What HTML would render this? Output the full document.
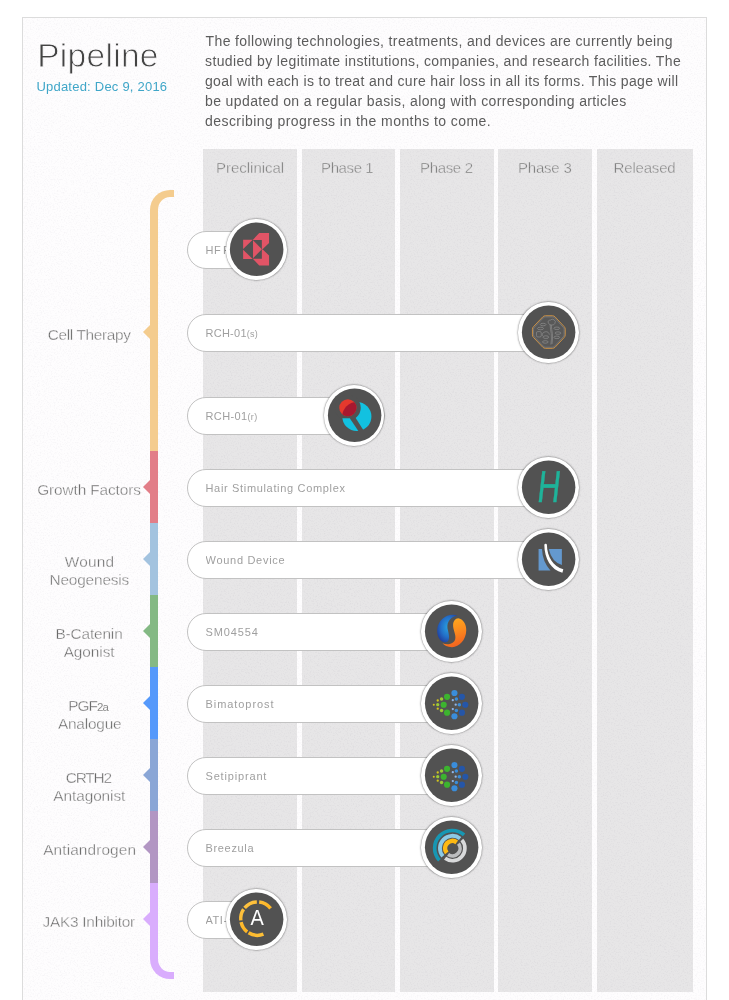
<!DOCTYPE html>
<html lang="en">
<head>
<meta charset="utf-8">
<title>Pipeline</title>
<style>
html,body{margin:0;padding:0;background:#fff;}
body{width:729px;height:1000px;overflow:hidden;position:relative;font-family:"Liberation Sans", sans-serif;}
#card{position:absolute;left:22px;top:17px;width:683px;height:1100px;border:1px solid #dcdcdc;background:#fefdfe;}
#nz{position:absolute;left:23px;top:18px;width:683px;height:982px;pointer-events:none;}
.col{position:absolute;top:149px;height:843px;background:rgba(0,0,0,0.09);}
.t{position:absolute;display:block;white-space:nowrap;line-height:1;margin:0;padding:0;font-weight:400;}
.seg{position:absolute;left:150px;width:8px;}
.arr{position:absolute;left:143px;width:0;height:0;border-top:7px solid transparent;border-bottom:7px solid transparent;border-right:7.5px solid #000;}
.bar{position:absolute;left:187px;height:36px;border:1px solid #c2c2c2;border-radius:19px;background:#fff;box-sizing:content-box;}
.sm{font-size:9px;}
.circ{position:absolute;width:60.7px;height:60.7px;border-radius:50%;background:#fff;box-shadow:0 0 1.6px 0.4px rgba(0,0,0,0.42);}
.circ svg{position:absolute;left:0;top:0;width:61px;height:61px;display:block;}
</style>
</head>
<body>
<div id="card"></div>
<svg id="nz" width="683" height="982"><filter id="nzf" x="0" y="0" width="100%" height="100%"><feTurbulence type="fractalNoise" baseFrequency="0.7" numOctaves="3" seed="7"/><feColorMatrix type="matrix" values="0 0 0 0 0.3  0 0 0 0 0.27  0 0 0 0 0.36  0.22 0 0 0 -0.105"/></filter><rect width="683" height="982" filter="url(#nzf)"/></svg>

<div class="col" style="left:203px;width:94px"></div>
<div class="col" style="left:302px;width:93px"></div>
<div class="col" style="left:400px;width:94px"></div>
<div class="col" style="left:498px;width:94px"></div>
<div class="col" style="left:597px;width:96px"></div>
<div style="position:absolute;left:150px;top:190px;width:16px;height:30px;border-left:8px solid #f4cc8e;border-top:7px solid #f4cc8e;border-top-left-radius:20px;"></div>
<div style="position:absolute;left:150px;top:949px;width:16px;height:23px;border-left:8px solid #d9adfd;border-bottom:7px solid #d9adfd;border-bottom-left-radius:20px;"></div>
<div class="seg" style="top:220px;height:231px;background:#f4cc8e"></div>
<div class="arr" style="top:325.3px;border-right-color:#f4cc8e"></div>
<div class="seg" style="top:451px;height:72px;background:#e27e88"></div>
<div class="arr" style="top:480.3px;border-right-color:#e27e88"></div>
<div class="seg" style="top:523px;height:72px;background:#a3c3df"></div>
<div class="arr" style="top:552.3px;border-right-color:#a3c3df"></div>
<div class="seg" style="top:595px;height:72px;background:#84b984"></div>
<div class="arr" style="top:624.3px;border-right-color:#84b984"></div>
<div class="seg" style="top:667px;height:72px;background:#5599fb"></div>
<div class="arr" style="top:696.3px;border-right-color:#5599fb"></div>
<div class="seg" style="top:739px;height:72px;background:#8aa6d6"></div>
<div class="arr" style="top:768.3px;border-right-color:#8aa6d6"></div>
<div class="seg" style="top:811px;height:72px;background:#b296c3"></div>
<div class="arr" style="top:840.3px;border-right-color:#b296c3"></div>
<div class="seg" style="top:883px;height:66px;background:#d9adfd"></div>
<div class="arr" style="top:912.3px;border-right-color:#d9adfd"></div>
<h1 class="t" id="title" style="left:37.15px;top:39.01px;font-size:33.5px;color:#444;letter-spacing:0.302px;-webkit-text-stroke:0.85px #fdfcfd;">Pipeline</h1>
<div class="t" id="upd" style="left:36.42px;top:80.01px;font-size:13px;color:#3fa6c8;letter-spacing:0.222px;">Updated: Dec 9, 2016</div>
<p style="margin:0">
<span class="t" id="p0" style="left:205.6px;top:34.00px;font-size:14px;color:#5c5c5c;letter-spacing:0.366px;">The following technologies, treatments, and devices are currently being</span>
<span class="t" id="p1" style="left:205.0px;top:54.00px;font-size:14px;color:#5c5c5c;letter-spacing:0.375px;">studied by legitimate institutions, companies, and research facilities. The</span>
<span class="t" id="p2" style="left:205.0px;top:74.00px;font-size:14px;color:#5c5c5c;letter-spacing:0.336px;">goal with each is to treat and cure hair loss in all its forms. This page will</span>
<span class="t" id="p3" style="left:205.0px;top:94.00px;font-size:14px;color:#5c5c5c;letter-spacing:0.385px;">be updated on a regular basis, along with corresponding articles</span>
<span class="t" id="p4" style="left:205.0px;top:114.00px;font-size:14px;color:#5c5c5c;letter-spacing:0.439px;">describing progress in the months to come.</span>
</p>
<div class="t" id="h0" style="left:216.09px;top:160.00px;font-size:15px;color:#787878;letter-spacing:-0.026px;-webkit-text-stroke:0.4px #e6e5e6;">Preclinical</div>
<div class="t" id="h1" style="left:321.09px;top:160.00px;font-size:15px;color:#787878;letter-spacing:-0.401px;-webkit-text-stroke:0.4px #e6e5e6;">Phase 1</div>
<div class="t" id="h2" style="left:420.04px;top:160.00px;font-size:15px;color:#787878;letter-spacing:-0.337px;-webkit-text-stroke:0.4px #e6e5e6;">Phase 2</div>
<div class="t" id="h3" style="left:518.0px;top:160.00px;font-size:15px;color:#787878;letter-spacing:-0.204px;-webkit-text-stroke:0.4px #e6e5e6;">Phase 3</div>
<div class="t" id="h4" style="left:613.62px;top:160.00px;font-size:15px;color:#787878;letter-spacing:-0.191px;-webkit-text-stroke:0.4px #e6e5e6;">Released</div>
<div class="t" id="l0" style="left:47.67px;top:327.00px;font-size:15.4px;color:#6a6a6a;letter-spacing:-0.338px;-webkit-text-stroke:0.38px #fdfcfd;">Cell Therapy</div>
<div class="t" id="l1" style="left:37.19px;top:482.01px;font-size:15.4px;color:#6a6a6a;letter-spacing:-0.112px;-webkit-text-stroke:0.38px #fdfcfd;">Growth Factors</div>
<div class="t" id="l2a" style="left:64.76px;top:554.00px;font-size:15.4px;color:#6a6a6a;letter-spacing:0.195px;-webkit-text-stroke:0.38px #fdfcfd;">Wound</div>
<div class="t" id="l2b" style="left:49.46px;top:572.00px;font-size:15.4px;color:#6a6a6a;letter-spacing:-0.16px;-webkit-text-stroke:0.38px #fdfcfd;">Neogenesis</div>
<div class="t" id="l3a" style="left:55.43px;top:626.00px;font-size:15.4px;color:#6a6a6a;letter-spacing:-0.144px;-webkit-text-stroke:0.38px #fdfcfd;">B-Catenin</div>
<div class="t" id="l3b" style="left:63.66px;top:644.00px;font-size:15.4px;color:#6a6a6a;letter-spacing:-0.06px;-webkit-text-stroke:0.38px #fdfcfd;">Agonist</div>
<div class="t" id="l4a" style="left:68.15px;top:698.00px;font-size:15.4px;color:#6a6a6a;letter-spacing:-0.924px;-webkit-text-stroke:0.38px #fdfcfd;">PGF<span style="font-size:11.5px;-webkit-text-stroke:0;color:#8a8a8a">2a</span></div>
<div class="t" id="l4b" style="left:57.9px;top:716.00px;font-size:15.4px;color:#6a6a6a;letter-spacing:-0.187px;-webkit-text-stroke:0.38px #fdfcfd;">Analogue</div>
<div class="t" id="l5a" style="left:65.68px;top:770.00px;font-size:15.4px;color:#6a6a6a;letter-spacing:-1.151px;-webkit-text-stroke:0.38px #fdfcfd;">CRTH2</div>
<div class="t" id="l5b" style="left:53.34px;top:788.00px;font-size:15.4px;color:#6a6a6a;letter-spacing:-0.083px;-webkit-text-stroke:0.38px #fdfcfd;">Antagonist</div>
<div class="t" id="l6" style="left:43.19px;top:842.01px;font-size:15.4px;color:#6a6a6a;letter-spacing:0.113px;-webkit-text-stroke:0.38px #fdfcfd;">Antiandrogen</div>
<div class="t" id="l7" style="left:42.53px;top:914.01px;font-size:15.4px;color:#6a6a6a;letter-spacing:-0.248px;-webkit-text-stroke:0.38px #fdfcfd;">JAK3 Inhibitor</div>
<div class="bar" style="top:231px;width:98.0px"></div>
<span class="t" id="b0" style="left:205.5px;top:244.69px;font-size:11px;color:#9f9f9f;letter-spacing:0.45px;width:51px;overflow:hidden;word-spacing:-1.6px;">HF Regeneration</span>
<div class="circ" style="left:226.0px;top:219px"><svg viewBox="41.66 41.66 635.25 635.25"><circle cx="360.8" cy="356.3" r="278.6" fill="#525252"/>
<g fill="#e15466">
<polygon points="220,258 320,258 220,355"/>
<polygon points="220,362 320,458 220,458"/>
<polygon points="323,264 416,357 323,450"/>
<polygon points="388,188 490,188 490,292 422,357 415,350 415,260 320,260"/>
<polygon points="388,526 490,526 490,422 422,357 415,364 415,455 320,455"/>
</g>
</svg></div>
<div class="bar" style="top:314px;width:390.4px"></div>
<span class="t" id="b1" style="left:205.5px;top:328.00px;font-size:11px;color:#9f9f9f;letter-spacing:0.253px;width:343px;overflow:hidden;">RCH-01<span class="sm">(s)</span></span>
<div class="circ" style="left:518.4px;top:302px"><svg viewBox="45.8 52.07 635.25 635.25"><circle cx="364.9" cy="366.7" r="278.6" fill="#525252"/>
<path d="M332,195 L404,195 Q420,195 432,207 L526,308 Q538,320 538,336 L538,394 Q538,410 526,422 L432,523 Q420,535 404,535 L332,535 Q316,535 304,523 L208,422 Q196,410 196,394 L196,336 Q196,320 208,308 L304,207 Q316,195 332,195 Z" fill="#585858" stroke="#eaa142" stroke-width="8"/>
<path d="M334,207 L402,207 Q416,207 426,217 L516,315 Q526,325 526,338 L526,392 Q526,405 516,415 L426,513 Q416,523 402,523 L334,523 Q320,523 310,513 L218,415 Q208,405 208,392 L208,338 Q208,325 218,315 L310,217 Q320,207 334,207 Z" fill="none" stroke="#a0a4ac" stroke-width="4"/>
<g fill="none" stroke="#a4a4a4" stroke-width="5">
<ellipse cx="307" cy="287" rx="30" ry="13"/>
<ellipse cx="280" cy="328" rx="32" ry="13"/>
<ellipse cx="450" cy="326" rx="30" ry="13"/>
<ellipse cx="462" cy="376" rx="30" ry="13"/>
<ellipse cx="450" cy="420" rx="30" ry="13"/>
<ellipse cx="336" cy="418" rx="30" ry="14"/>
<ellipse cx="330" cy="468" rx="30" ry="13"/>
<rect x="238" y="360" width="50" height="56" rx="14"/>
<path d="M300,405 A36,36 0 1 1 372,392"/>
<path d="M380,290 Q384,340 392,380 Q398,440 388,495"/>
<path d="M392,290 Q396,340 404,380 Q408,440 400,490"/>
<path d="M362,270 Q352,242 385,240 Q400,222 422,238 Q444,252 429,277 Q420,296 394,292 Q372,294 362,270 Z"/>
</g>
</svg></div>
<div class="bar" style="top:397px;width:195.6px"></div>
<span class="t" id="b2" style="left:205.5px;top:411.00px;font-size:11px;color:#9f9f9f;letter-spacing:0.37px;width:149px;overflow:hidden;">RCH-01<span class="sm">(r)</span></span>
<div class="circ" style="left:323.6px;top:385px"><svg viewBox="37.5 52.07 635.25 635.25"><circle cx="356.6" cy="366.7" r="278.6" fill="#525252"/>
<defs><clipPath id="c3"><circle cx="286" cy="289" r="89.5"/></clipPath><clipPath id="c3b"><circle cx="379.6" cy="380.2" r="152"/></clipPath></defs>
<polygon points="116.6,0 700,0 700,700 560.6,700" fill="#12c1e0" clip-path="url(#c3b)"/>
<circle cx="286" cy="289" r="134" fill="#525252"/>
<polygon points="0,397.5 306,397.5 508,700 0,700" fill="#12c1e0" clip-path="url(#c3b)"/>
<circle cx="286" cy="289" r="89.5" fill="#e5392d"/>
<circle cx="379.6" cy="380.2" r="152" fill="#a7182f" clip-path="url(#c3)"/>
</svg></div>
<div class="bar" style="top:469px;width:390.4px"></div>
<span class="t" id="b3" style="left:205.5px;top:483.00px;font-size:11px;color:#9f9f9f;letter-spacing:0.666px;width:343px;overflow:hidden;">Hair Stimulating Complex</span>
<div class="circ" style="left:518.4px;top:457px"><svg viewBox="45.8 41.66 635.25 635.25"><circle cx="364.9" cy="356.3" r="278.6" fill="#525252"/>
<text x="0" y="0" transform="translate(236,512) skewX(-6.5) scale(0.7,1)" font-family="Liberation Sans, sans-serif" font-size="466" fill="#1fb39a" stroke="#1fb39a" stroke-width="5">H</text>
</svg></div>
<div class="bar" style="top:541px;width:390.4px"></div>
<span class="t" id="b4" style="left:205.5px;top:555.00px;font-size:11px;color:#9f9f9f;letter-spacing:0.71px;width:343px;overflow:hidden;">Wound Device</span>
<div class="circ" style="left:518.4px;top:529px"><svg viewBox="45.8 41.66 635.25 635.25"><circle cx="364.9" cy="356.3" r="278.6" fill="#525252"/>
<path d="M260,250 L296,250 Q300,382 384,473 L260,473 Z" fill="#6499cf"/>
<path d="M366,250 L503,250 L503,416 Q398,386 366,250 Z" fill="#6499cf"/>
<path d="M320,205 Q324,195 335,196 Q346,197 347,208 C348,330 412,430 518,462 L508,497 C392,468 320,350 320,205 Z" fill="#fff"/>
</svg></div>
<div class="bar" style="top:613px;width:293.2px"></div>
<span class="t" id="b5" style="left:205.5px;top:627.00px;font-size:11px;color:#9f9f9f;letter-spacing:0.889px;width:246px;overflow:hidden;">SM04554</span>
<div class="circ" style="left:421.2px;top:601px"><svg viewBox="43.74 41.66 635.25 635.25"><circle cx="362.9" cy="356.3" r="278.6" fill="#525252"/>
<defs>
<radialGradient id="g6b" cx="0.55" cy="0.45" r="0.65"><stop offset="0" stop-color="#29a3e2"/><stop offset="0.55" stop-color="#2370c8"/><stop offset="1" stop-color="#20389a"/></radialGradient>
<linearGradient id="g6o" x1="0.3" y1="0" x2="0.6" y2="1"><stop offset="0" stop-color="#ffac1c"/><stop offset="0.5" stop-color="#fb8a1e"/><stop offset="1" stop-color="#f2601f"/></linearGradient>
</defs>
<path d="M422,192 C330,160 215,230 212,345 C210,420 250,470 300,472 C345,470 340,410 325,350 C305,280 330,215 422,192 Z" fill="url(#g6b)"/>
<path d="M432,220 C480,225 518,280 515,350 C512,450 440,525 365,523 C320,522 285,505 268,482 C320,505 385,490 400,440 C412,395 375,340 378,290 C380,250 400,222 432,220 Z" fill="url(#g6o)"/>
</svg></div>
<div class="bar" style="top:685px;width:293.2px"></div>
<span class="t" id="b6" style="left:205.5px;top:699.00px;font-size:11px;color:#9f9f9f;letter-spacing:0.939px;width:246px;overflow:hidden;">Bimatoprost</span>
<div class="circ" style="left:421.2px;top:673px"><svg viewBox="43.74 41.66 635.25 635.25"><circle cx="362.9" cy="356.3" r="278.6" fill="#525252"/>
<g fill="#d2c51c"><circle cx="177" cy="372" r="11"/><circle cx="218" cy="328" r="12"/><circle cx="218" cy="413" r="12"/></g>
<g fill="#9bcb35"><circle cx="258" cy="312" r="18"/><circle cx="218" cy="372" r="17"/><circle cx="258" cy="432" r="18"/></g>
<g fill="#3cb42f"><circle cx="315" cy="290" r="32"/><circle cx="280" cy="372" r="32"/><circle cx="315" cy="455" r="32"/></g>
<g fill="#8fb6ea"><circle cx="375" cy="325" r="12"/><circle cx="405" cy="372" r="12"/><circle cx="375" cy="417" r="12"/></g>
<g fill="#3a8ddb"><circle cx="412" cy="312" r="18"/><circle cx="443" cy="372" r="18"/><circle cx="412" cy="432" r="18"/><circle cx="392" cy="250" r="32"/><circle cx="392" cy="492" r="32"/></g>
<g fill="#2556a8"><circle cx="470" cy="290" r="32"/><circle cx="505" cy="372" r="32"/><circle cx="470" cy="455" r="32"/></g>
</svg></div>
<div class="bar" style="top:757px;width:293.2px"></div>
<span class="t" id="b7" style="left:205.5px;top:771.00px;font-size:11px;color:#9f9f9f;letter-spacing:0.83px;width:246px;overflow:hidden;">Setipiprant</span>
<div class="circ" style="left:421.2px;top:745px"><svg viewBox="43.74 41.66 635.25 635.25"><circle cx="362.9" cy="356.3" r="278.6" fill="#525252"/>
<g fill="#d2c51c"><circle cx="177" cy="372" r="11"/><circle cx="218" cy="328" r="12"/><circle cx="218" cy="413" r="12"/></g>
<g fill="#9bcb35"><circle cx="258" cy="312" r="18"/><circle cx="218" cy="372" r="17"/><circle cx="258" cy="432" r="18"/></g>
<g fill="#3cb42f"><circle cx="315" cy="290" r="32"/><circle cx="280" cy="372" r="32"/><circle cx="315" cy="455" r="32"/></g>
<g fill="#8fb6ea"><circle cx="375" cy="325" r="12"/><circle cx="405" cy="372" r="12"/><circle cx="375" cy="417" r="12"/></g>
<g fill="#3a8ddb"><circle cx="412" cy="312" r="18"/><circle cx="443" cy="372" r="18"/><circle cx="412" cy="432" r="18"/><circle cx="392" cy="250" r="32"/><circle cx="392" cy="492" r="32"/></g>
<g fill="#2556a8"><circle cx="470" cy="290" r="32"/><circle cx="505" cy="372" r="32"/><circle cx="470" cy="455" r="32"/></g>
</svg></div>
<div class="bar" style="top:829px;width:293.2px"></div>
<span class="t" id="b8" style="left:205.5px;top:843.00px;font-size:11px;color:#9f9f9f;letter-spacing:0.668px;width:246px;overflow:hidden;">Breezula</span>
<div class="circ" style="left:421.2px;top:817px"><svg viewBox="43.74 41.66 635.25 635.25"><circle cx="362.9" cy="356.3" r="278.6" fill="#525252"/>
<g fill="none">
<path d="M492.4,227.4 A185,185 0 0 0 235.7,493.2" stroke="#1797b3" stroke-width="38"/>
<path d="M451.0,264.6 A130,130 0 0 0 271.4,450.6" stroke="#8ccae5" stroke-width="40"/>
<path d="M415.7,305.5 A76,76 0 0 0 311.9,414.8" stroke="#fdb913" stroke-width="48"/>
<path d="M469.1,281.7 A130,130 0 0 1 294.6,472.2" stroke="#d9dadb" stroke-width="38"/>
<path d="M434.0,317.7 A80,80 0 0 1 325.1,432.5" stroke="#bcbdbf" stroke-width="38"/>
</g>
</svg></div>
<div class="bar" style="top:901px;width:98.0px"></div>
<span class="t" id="b9" style="left:205.5px;top:914.69px;font-size:11px;color:#9f9f9f;letter-spacing:0.55px;width:51px;overflow:hidden;">ATI-50001</span>
<div class="circ" style="left:226.0px;top:889px"><svg viewBox="41.66 41.66 635.25 635.25"><circle cx="360.8" cy="356.3" r="278.6" fill="#525252"/>
<defs><linearGradient id="g10" gradientUnits="userSpaceOnUse" x1="190" y1="170" x2="520" y2="530"><stop offset="0" stop-color="#ffc84a"/><stop offset="0.5" stop-color="#fdb525"/><stop offset="1" stop-color="#ffc53f"/></linearGradient></defs>
<g fill="none" stroke="url(#g10)" stroke-width="36">
<path d="M387.2,177.0 A174,174 0 0 1 506.1,242.9"/>
<path d="M235.7,238.2 A174,174 0 0 1 362.9,176.1"/>
<path d="M196.0,368.2 A174,174 0 0 1 224.7,252.7"/>
<path d="M261.9,487.1 A174,174 0 0 1 198.8,386.2"/>
<path d="M431.4,512.4 A174,174 0 0 1 276.8,497.6"/>
</g>
<text x="0" y="0" transform="translate(367,418) scale(0.92,1.04)" text-anchor="middle" font-family="Liberation Sans, sans-serif" font-size="226" fill="#fff">A</text>
</svg></div>
</body>
</html>
